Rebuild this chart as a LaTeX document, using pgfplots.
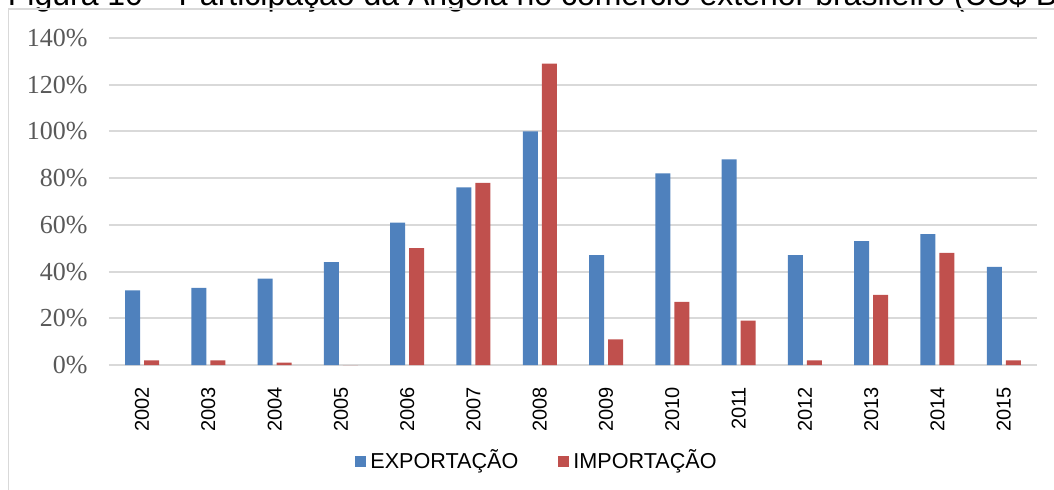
\documentclass[border=0pt]{standalone}
\usepackage{fontspec}
\setmainfont{Liberation Sans}
\newfontfamily\serifnum{Liberation Serif}
\usepackage{pgfplots}
\pgfplotsset{compat=1.18}

\definecolor{expblue}{HTML}{4F81BD}
\definecolor{impred}{HTML}{C0504D}
\definecolor{gridgray}{HTML}{D9D9D9}
\definecolor{ticktext}{HTML}{595959}

\begin{document}
\begin{tikzpicture}
% picture = 1054x489 px, 1 px = 0.5pt
\useasboundingbox (0,0) rectangle (527pt,244.5pt);
\clip (0,0) rectangle (527pt,244.5pt);

% title, partly cut off at the top like the reference
\node[anchor=base west, inner sep=0pt, font=\fontsize{16}{16}\selectfont]
  at (3.75pt,241.85pt) {Figura 10 -- Participação da Angola no comércio exterior brasileiro (US\$ Bilhões)};

% chart frame
\draw[gridgray, line width=0.8pt] (4.15pt,-1pt) -- (4.15pt,239.9pt) -- (530pt,239.9pt);

\begin{axis}[
  at={(54.45pt,62pt)}, anchor=south west,
  scale only axis, width=464pt, height=163.5pt,
  ybar=2pt, bar width=7.5pt,
  xmin=-0.5, xmax=13.5,
  ymin=0, ymax=140,
  xtick={0,...,13},
  xticklabels={2002,2003,2004,2005,2006,2007,2008,2009,2010,2011,2012,2013,2014,2015},
  xticklabel style={rotate=90, anchor=east, font=\fontsize{10}{10}\selectfont, inner sep=0pt},
  xticklabel shift=6.5pt,
  xtick style={draw=none},
  ytick={0,20,...,140},
  yticklabel={\pgfmathprintnumber{\tick}\%},
  /pgf/number format/assume math mode=true,
  yticklabel style={font=\serifnum\fontsize{13}{13}\selectfont, text=ticktext, inner sep=0pt},
  yticklabel shift=10.5pt,
  ytick style={draw=none},
  ymajorgrids, major grid style={gridgray, line width=1pt},
  axis x line*=bottom, axis y line*=left,
  x axis line style={gridgray, line width=1pt, -},
  y axis line style={draw=none},
  legend style={at={(0.4624,-0.2936)}, anchor=center, draw=none, fill=none,
    legend columns=2, font=\fontsize{10.8}{10.8}\selectfont,
    /tikz/every even column/.append style={column sep=18pt}},
  legend image code/.code={\fill[#1] (0pt,-2.75pt) rectangle (5.5pt,2.75pt);},
]
\addplot[fill=expblue, draw=none] coordinates {
  (0,32) (1,33) (2,37) (3,44) (4,61) (5,76) (6,100)
  (7,47) (8,82) (9,88) (10,47) (11,53) (12,56) (13,42)};
\addplot[fill=impred, draw=none] coordinates {
  (0,2) (1,2) (2,1) (3,0) (4,50) (5,78) (6,129)
  (7,11) (8,27) (9,19) (10,2) (11,30) (12,48) (13,2)};
\legend{EXPORTAÇÃO, IMPORTAÇÃO}
\end{axis}
\end{tikzpicture}
\end{document}
